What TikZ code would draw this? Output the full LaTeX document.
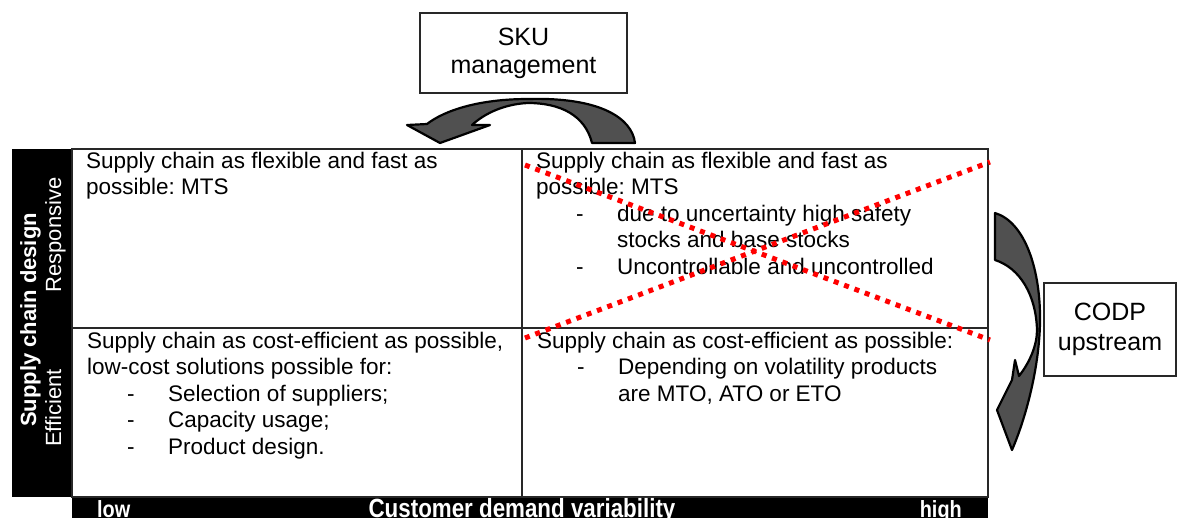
\documentclass[tikz,border=0pt]{standalone}
\usepackage{fontspec}
\setmainfont{Liberation Sans}
\newfontfamily\narrowfont{Liberation Sans}[FakeStretch=0.85]
\definecolor{arrowgray}{RGB}{80,80,80}
\definecolor{gridline}{RGB}{40,40,40}
\newcommand\dashitem[1]{\hspace*{40pt}\makebox[41pt][l]{-}#1}
\newcommand\contline{\hspace*{81pt}}
\frenchspacing

\tikzset{
  celltext/.style={anchor=base west, inner sep=0pt, text=black,
    font=\fontsize{22.5}{26.5}\selectfont},
  boxlabel/.style={draw=gridline, line width=1.6pt, align=center, inner sep=0pt,
    font=\fontsize{25}{29}\selectfont},
  sidelabel/.style={rotate=90, anchor=base, inner sep=0pt, text=white,
    font=\fontsize{22}{26}\selectfont},
  axislabel/.style={inner sep=0pt, text=white},
  blockarrow/.style={fill=arrowgray, draw=black, line width=2.2pt, line join=round},
  crossline/.style={red, line width=5pt, dash pattern=on 5pt off 6pt}
}

\begin{document}
\begin{tikzpicture}[x=1pt, y=-1pt]
\useasboundingbox (0,0) rectangle (1177,517);

% black bars for the two axes
\fill[black] (12,149) rectangle (72,497);
\fill[black] (72,497) rectangle (988,530);

% the four quadrants
\draw[gridline, line width=1.5pt] (72,149) rectangle (988,497);
\draw[gridline, line width=1.5pt] (522,149) -- (522,497);
\draw[gridline, line width=1.5pt] (72,328) -- (988,328);

% axis labels
\node[sidelabel, font=\bfseries\fontsize{22}{26}\selectfont] (design) at (36,320) {Supply chain design};
\node[sidelabel] (resp) at (61,235) {Responsive};
\node[sidelabel] (eff) at (61,408) {Efficient};
\node[axislabel, anchor=base west, font=\narrowfont\bfseries\fontsize{23.4}{26}\selectfont] (low) at (97,517) {low};
\node[axislabel, anchor=base, font=\narrowfont\bfseries\fontsize{26.3}{28}\selectfont] (cdv) at (522,517) {Customer demand variability};
\node[axislabel, anchor=base east, font=\narrowfont\bfseries\fontsize{23.4}{26}\selectfont] (high) at (962,517) {high};

% quadrant texts
\node[celltext] (tl) at (86,168) {\begin{minipage}[t]{470pt}
Supply chain as flexible and fast as\\
possible: MTS
\end{minipage}};

\node[celltext] (tr) at (536,168) {\begin{minipage}[t]{470pt}
Supply chain as flexible and fast as\\
possible: MTS\\
\dashitem{due to uncertainty high safety}\\
\contline stocks and base stocks\\
\dashitem{Uncontrollable and uncontrolled}
\end{minipage}};

\node[celltext] (bl) at (87,348) {\begin{minipage}[t]{470pt}
Supply chain as cost-efficient as possible,\\
low-cost solutions possible for:\\
\dashitem{Selection of suppliers;}\\
\dashitem{Capacity usage;}\\
\dashitem{Product design.}
\end{minipage}};

\node[celltext] (br) at (537,348) {\begin{minipage}[t]{470pt}
Supply chain as cost-efficient as possible:\\
\dashitem{Depending on volatility products}\\
\contline are MTO, ATO or ETO
\end{minipage}};

% red dotted cross over the upper right quadrant
\draw[crossline] (525,165) -- (990,340);
\draw[crossline] (525,338) -- (990,162);

% boxes
\node[boxlabel, minimum width=207pt, minimum height=80pt, font=\fontsize{25}{28}\selectfont] (sku) at (523.5,53) {SKU\\management};
\node[boxlabel, minimum width=132pt, minimum height=93pt, font=\fontsize{25}{30}\selectfont] (codp) at (1110,329.5) {CODP\\upstream};

% curved block arrow under the SKU box
\path[blockarrow]
  (635,143) .. controls (632,118) and (600,97) .. (528,99)
  .. controls (480,99) and (445,110) .. (427,124)
  -- (407,125) -- (440,143) -- (490,125) -- (472,125)
  .. controls (485,113) and (505,104) .. (528,103)
  .. controls (560,103) and (585,115) .. (592,143) -- cycle;

% curved block arrow beside the CODP box
\path[blockarrow]
  (995,213) .. controls (1025,222) and (1041,270) .. (1040,323)
  .. controls (1039,370) and (1025,420) .. (1012,450)
  -- (997,410) -- (1012,380) -- (1015,360) -- (1019,376)
  .. controls (1030,362) and (1037,345) .. (1037,330)
  .. controls (1036,295) and (1020,268) .. (995,260) -- cycle;
\end{tikzpicture}
\end{document}
